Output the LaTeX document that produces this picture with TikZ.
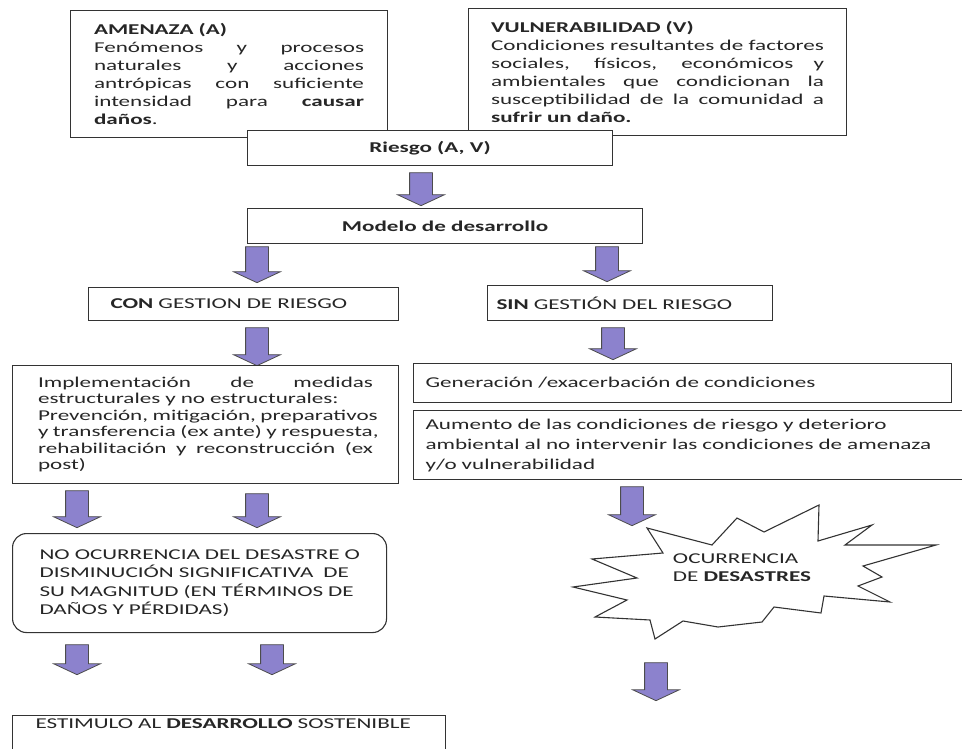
\documentclass[tikz,border=0pt]{standalone}
\usepackage{fontspec}
\setmainfont{Carlito}[FakeStretch=1.54]
\usetikzlibrary{shapes.arrows}
\definecolor{lila}{RGB}{140,130,205}
\hyphenpenalty=10000
\exhyphenpenalty=10000
% linea justificada
\newcommand\linea[1]{\leavevmode\hbox to \hsize{\spaceskip=0.3em plus 1fil\relax #1}\\}

\tikzset{
  caja/.style={draw=black!80, line width=1.1pt, fill=white, anchor=north west,
    inner ysep=0pt, text=black!85, font=\fontsize{15}{18}\selectfont},
  flecha/.style={single arrow, rotate=-90, draw=black!70, line width=0.8pt,
    fill=lila, inner sep=0pt, text height=11pt, text depth=11pt,
    single arrow head extend=12pt, single arrow tip angle=130},
}

\begin{document}
\begin{tikzpicture}[x=1pt, y=-1pt]
  \clip (0,0) rectangle (962,749);
  \fill[white] (0,0) rectangle (962,749);

  % amenaza, vulnerabilidad y riesgo
  \node[caja, text width=270pt, inner xsep=23.5pt, minimum height=127pt, align=left] (amenaza) at (70,10)
    {\textbf{AMENAZA (A)}\\ \linea{Fenómenos y procesos}\linea{naturales y acciones}\linea{antrópicas con suficiente}\linea{intensidad para \textbf{causar}}\textbf{daños}.};
  \node[caja, text width=333pt, inner xsep=22.5pt, minimum height=127pt, align=left] (vulner) at (468,8)
    {\textbf{VULNERABILIDAD (V)}\\ \linea{Condiciones resultantes de factores}\linea{sociales, físicos, económicos y}\linea{ambientales que condicionan la}\linea{susceptibilidad de la comunidad a}\textbf{sufrir un daño.}};
  \node[caja, minimum width=365pt, minimum height=35pt, font=\fontsize{15}{18}\selectfont\bfseries] (riesgo) at (247,130) {Riesgo (A, V)};
  \node[flecha, minimum height=33pt] (fRiesgo) at (421,186.5) {};

  \node[caja, minimum width=395pt, minimum height=35pt, font=\fontsize{15}{18}\selectfont\bfseries] (modelo) at (247,208) {Modelo de desarrollo};
  \node[flecha, minimum height=36pt] (fModeloA) at (257,262) {};
  \node[flecha, minimum height=35pt] (fModeloB) at (607,261.5) {};

  % con gestion
  \node[caja, text width=266pt, inner xsep=22pt, minimum height=33pt, align=left] (con) at (88,287) {\textbf{CON} GESTION DE RIESGO};
  \node[flecha, minimum height=38pt] (fCon) at (257,344) {};
  \node[caja, text width=335pt, inner xsep=25.5pt, minimum height=118pt, align=left,
    font=\fontsize{15}{16.5}\selectfont] (impl) at (12,365)
    {\linea{Implementación de medidas}estructurales y no estructurales:\\ \linea{Prevención, mitigación, preparativos}\linea{y transferencia (ex ante) y respuesta,}\linea{rehabilitación y reconstrucción (ex}post)};
  \node[flecha, minimum height=37pt] (fImplA) at (77,506.5) {};
  \node[flecha, minimum height=34pt] (fImplB) at (257,508) {};
  \node[caja, rounded corners=14pt, text width=320pt, inner xsep=27pt, minimum height=99pt, align=left,
    font=\fontsize{15}{18.3}\selectfont] (noocc) at (12,533)
    {\mbox{NO OCURRENCIA DEL DESASTRE O}\\ \mbox{DISMINUCIÓN SIGNIFICATIVA~ DE}\\ \mbox{SU MAGNITUD (EN TÉRMINOS DE}\\ \mbox{DAÑOS Y PÉRDIDAS)}};
  \node[flecha, minimum height=30pt] (fNoA) at (77,657) {};
  \node[flecha, minimum height=30pt] (fNoB) at (272,657) {};
  \node[caja, text width=387pt, inner xsep=23pt, minimum height=60pt, text depth=44pt, align=left] (estimulo) at (12,715)
    {\mbox{ESTIMULO AL \textbf{DESARROLLO} SOSTENIBLE}};

  % sin gestion
  \node[caja, text width=267pt, inner xsep=9pt, minimum height=35pt, align=left] (sin) at (487,285) {\textbf{SIN} GESTIÓN DEL RIESGO};
  \node[flecha, minimum height=32pt] (fSin) at (613,341) {};
  \node[caja, text width=514pt, inner xsep=12pt, minimum height=39pt, align=left] (gen) at (413,363) {Generación /exacerbación de condiciones};
  \node[caja, text width=540pt, inner xsep=12pt, minimum height=69pt, align=left,
    font=\fontsize{15}{20}\selectfont] (aum) at (413,410)
    {Aumento de las condiciones de riesgo y deterioro\\ ambiental al no intervenir las condiciones de amenaza\\ y/o vulnerabilidad};
  \node[flecha, minimum height=39pt] (fAum) at (632,503.5) {};

  \draw[black!80, line width=1.1pt, fill=white, line join=miter]
    (647,528) -- (712,545) -- (737,518) -- (764,532) -- (819,505) -- (818,541)
    -- (872,525) -- (845,545) -- (936,545) -- (863,566) -- (882,577) -- (858,586)
    -- (890,602) -- (824,596) -- (821,613) -- (774,607) -- (762,622) -- (718,627)
    -- (683,621) -- (655,639) -- (650,620) -- (595,617) -- (627,600) -- (573,587)
    -- (637,578) -- (592,559) -- (663,553) -- cycle;
  \node[align=left, text=black!85, font=\fontsize{15}{18}\selectfont] (ocurre) at (742,568) {OCURRENCIA\\DE \textbf{DESASTRES}};
  \node[flecha, minimum height=38pt] (fOcurre) at (656,679) {};
\end{tikzpicture}
\end{document}
